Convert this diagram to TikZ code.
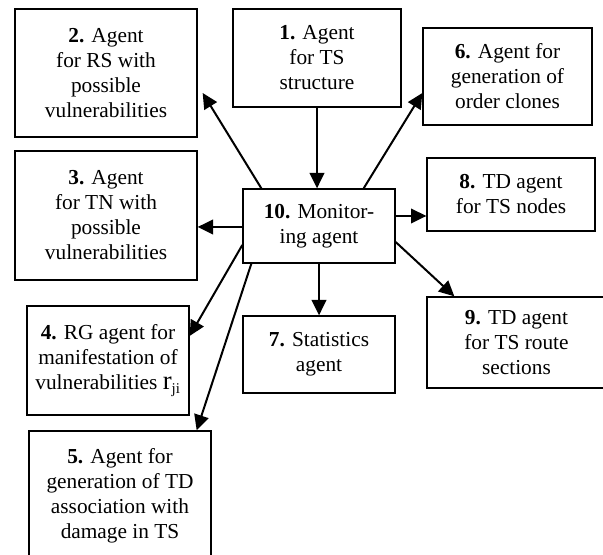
\documentclass[tikz,border=0pt]{standalone}
\usepackage{fontspec}
\setmainfont{Liberation Serif}
\usetikzlibrary{arrows.meta}
\begin{document}
\begin{tikzpicture}[x=0.75pt,y=-0.75pt,
  agentbox/.style={draw=black, line width=1pt, fill=white, align=center,
    inner sep=2pt, font=\fontsize{16}{18.75}\selectfont},
  link/.style={line width=1.5pt, -{Triangle[length=11.5pt,width=11pt]}}]
\useasboundingbox (0,0) rectangle (603,555);

\node[agentbox, minimum width=126pt,  minimum height=73.5pt]  (n1)  at (317,58)    {\textbf{1.} Agent\\for TS\\structure};
\node[agentbox, minimum width=136.5pt,minimum height=96pt]    (n2)  at (106,73)    {\textbf{2.} Agent\\for RS with\\possible\\vulnerabilities};
\node[agentbox, minimum width=126.75pt,minimum height=72.75pt](n6)  at (507.5,76.5){\textbf{6.} Agent for\\generation of\\order clones};
\node[agentbox, minimum width=136.5pt,minimum height=96.75pt] (n3)  at (106,215.5) {\textbf{3.} Agent\\for TN with\\possible\\vulnerabilities};
\node[agentbox, minimum width=114pt,  minimum height=55.5pt]  (n10) at (319,226)   {\textbf{10.} Monitor-\\ing agent};
\node[agentbox, minimum width=126pt,  minimum height=54.75pt] (n8)  at (511,194.5) {\textbf{8.} TD agent\\for TS nodes};
\node[agentbox, minimum width=121.5pt,minimum height=81.75pt] (n4)  at (108,360.5) {\textbf{4.} RG agent for\\manifestation of\\vulnerabilities {\fontsize{20}{18.75}\selectfont r}\textsubscript{ji}};
\node[agentbox, minimum width=114pt,  minimum height=57.75pt] (n7)  at (319,354.5) {\textbf{7.} Statistics\\agent};
\node[agentbox, minimum width=134.25pt,minimum height=68.25pt](n9)  at (516.5,342.5){\textbf{9.} TD agent\\for TS route\\sections};
\node[agentbox, minimum width=136.5pt,minimum height=96.75pt] (n5)  at (120,495.5) {\textbf{5.} Agent for\\generation of TD\\association with\\damage in TS};

% links around the monitoring agent
\draw[link] (n1.south) -- (n1.south |- n10.north);
\draw[link] ([xshift=14.25pt]n10.north west) -- ([xshift=3.75pt,yshift=-15pt]n2.east);
\draw[link] ([xshift=-24pt]n10.north east) -- ([yshift=-12.4pt]n6.west);
\draw[link] ([yshift=-0.75pt]n10.west) -- ([yshift=-0.75pt]n10.west -| n3.east);
\draw[link] ([yshift=7.5pt]n10.east) -- ([yshift=7.5pt]n10.east -| n8.west);
\draw[link] ([yshift=-12pt]n10.east) -- ([xshift=21pt]n9.north west);
\draw[link] (n10.south) -- (n10.south |- n7.north);
\draw[link] ([yshift=-14.25pt]n10.west) -- ([yshift=18.4pt]n4.east);
\draw[link] ([xshift=6.75pt]n10.south west) -- ([xshift=-11.25pt]n5.north east);
\end{tikzpicture}
\end{document}
